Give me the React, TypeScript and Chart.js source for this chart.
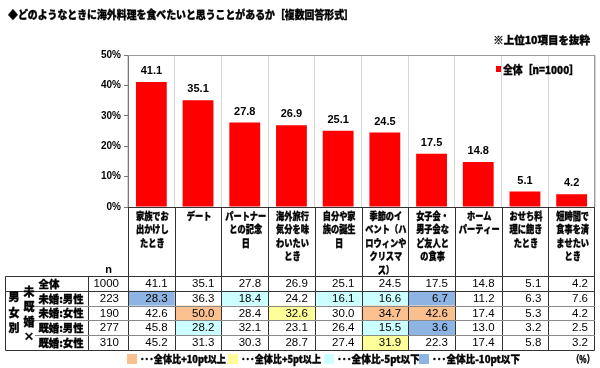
import React, { useEffect, useRef } from "react";
import { Chart, registerables } from "chart.js";
Chart.register(...registerables);

const titleText = "◆どのようなときに海外料理を食べたいと思うことがあるか［複数回答形式］";
const subtitleText = "※上位10項目を抜粋";
const seriesLabel = "全体［n=1000］";

const categories: string[][] = [
  ["家族でお", "出かけし", "たとき"],
  ["デート"],
  ["パートナー", "との記念", "日"],
  ["海外旅行", "気分を味", "わいたい", "とき"],
  ["自分や家", "族の誕生", "日"],
  ["季節のイ", "ベント（ハ", "ロウィンや", "クリスマ", "ス）"],
  ["女子会・", "男子会な", "ど友人と", "の食事"],
  ["ホーム", "パーティー"],
  ["おせち料", "理に飽き", "たとき"],
  ["短時間で", "食事を済", "ませたい", "とき"],
];

const totalValues = [41.1, 35.1, 27.8, 26.9, 25.1, 24.5, 17.5, 14.8, 5.1, 4.2];
const singleMale = [28.3, 36.3, 18.4, 24.2, 16.1, 16.6, 6.7, 11.2, 6.3, 7.6];
const singleFemale = [42.6, 50.0, 28.4, 32.6, 30.0, 34.7, 42.6, 17.4, 5.3, 4.2];
const marriedMale = [45.8, 28.2, 32.1, 23.1, 26.4, 15.5, 3.6, 13.0, 3.2, 2.5];
const marriedFemale = [45.2, 31.3, 30.3, 28.7, 27.4, 31.9, 22.3, 17.4, 5.8, 3.2];

const rowLabels = ["全体", "未婚:男性", "未婚:女性", "既婚:男性", "既婚:女性"];
const rowN = [1000, 223, 190, 277, 310];
const rowValues = [totalValues, singleMale, singleFemale, marriedMale, marriedFemale];
const groupLabel1 = ["男", "女", "別"];
const groupLabel2 = ["未", "既", "婚", "×"];

const yTicks = [0, 10, 20, 30, 40, 50];

const legendItems = [
  { color: "#FAC090", text: "･･･全体比+10pt以上" },
  { color: "#FFFF99", text: "･･･全体比+5pt以上" },
  { color: "#CCFFFF", text: "･･･全体比-5pt以下" },
  { color: "#8DB4E2", text: "･･･全体比-10pt以下" },
];

const JP = '"Noto Sans CJK JP", "Noto Sans", sans-serif';
const NUM = '"Liberation Sans", Arial, sans-serif';

function cellColor(v: number, base: number): string | null {
  const d = Math.round((v - base) * 10) / 10;
  if (d >= 10) return legendItems[0].color;
  if (d >= 5) return legendItems[1].color;
  if (d <= -10) return legendItems[3].color;
  if (d <= -5) return legendItems[2].color;
  return null;
}

function boldText(ctx: CanvasRenderingContext2D, t: string, x: number, y: number, maxW?: number) {
  if (maxW !== undefined) {
    ctx.fillText(t, x, y, maxW);
    ctx.lineWidth = 0.35;
    ctx.strokeStyle = ctx.fillStyle as string;
    ctx.strokeText(t, x, y, maxW);
  } else {
    ctx.fillText(t, x, y);
    ctx.lineWidth = 0.35;
    ctx.strokeStyle = ctx.fillStyle as string;
    ctx.strokeText(t, x, y);
  }
}

const overlayPlugin = {
  id: "overlay",
  afterDraw(chart: any) {
    const ctx = chart.ctx as CanvasRenderingContext2D;
    const area = chart.chartArea;
    const xs = chart.scales.x;
    const n = categories.length;
    const colW = (area.right - area.left) / n;
    const bound = (i: number) => area.left + i * colW;

    ctx.save();
    // Title & subtitle
    ctx.fillStyle = "#000";
    ctx.textBaseline = "middle";
    ctx.textAlign = "left";
    ctx.font = `900 11px ${JP}`;
    boldText(ctx, titleText, 8, 15, 346);
    ctx.textAlign = "right";
    ctx.font = `900 10.5px ${JP}`;
    boldText(ctx, subtitleText, 590, 40, 98);

    // plot border (top & right)
    ctx.strokeStyle = "#9a9a9a";
    ctx.lineWidth = 1;
    ctx.beginPath();
    ctx.moveTo(area.left, area.top + 0.5);
    ctx.lineTo(area.right, area.top + 0.5);
    ctx.moveTo(Math.round(area.right) - 0.5, area.top);
    ctx.lineTo(Math.round(area.right) - 0.5, area.bottom);
    ctx.stroke();

    // legend in plot
    ctx.fillStyle = "#FF0000";
    ctx.fillRect(496, 66, 5, 6);
    ctx.fillStyle = "#000";
    ctx.textAlign = "left";
    ctx.font = `900 11px ${JP}`;
    boldText(ctx, seriesLabel, 503, 70, 76);

    // value labels
    const meta = chart.getDatasetMeta(0);
    ctx.textAlign = "center";
    ctx.font = `bold 11px ${NUM}`;
    meta.data.forEach((bar: any, i: number) => {
      ctx.fillText(totalValues[i].toFixed(1), bar.x, bar.y - 11);
    });

    // geometry for table
    const tLeft = 5;
    const labelRight = 88;
    const tRight = Math.round(area.right);
    const tTop = 276;
    const rowH = 14.8;
    const rowY = (r: number) => tTop + r * rowH;
    const tBottom = rowY(5);

    // cell fills
    for (let r = 1; r < 5; r++) {
      for (let c = 0; c < n; c++) {
        const col = cellColor(rowValues[r][c], totalValues[c]);
        if (col) {
          ctx.fillStyle = col;
          ctx.fillRect(bound(c), rowY(r), colW, rowH);
        }
      }
    }

    // lines
    ctx.strokeStyle = "#333";
    ctx.lineWidth = 1;
    ctx.beginPath();
    for (let i = 0; i <= n; i++) {
      const x = Math.round(bound(i)) + (i === n ? -0.5 : 0.5);
      ctx.moveTo(x, area.bottom);
      ctx.lineTo(x, tBottom);
    }
    ctx.moveTo(area.left, Math.round(area.bottom) + 0.5);
    ctx.lineTo(tRight, Math.round(area.bottom) + 0.5);
    ctx.rect(tLeft + 0.5, tTop + 0.5, tRight - tLeft - 1, tBottom - tTop);
    ctx.moveTo(labelRight + 0.5, tTop);
    ctx.lineTo(labelRight + 0.5, tBottom);
    ctx.moveTo(tLeft, Math.round(rowY(1)) + 0.5);
    ctx.lineTo(tRight, Math.round(rowY(1)) + 0.5);
    ctx.stroke();

    ctx.strokeStyle = "#8a8a8a";
    ctx.beginPath();
    for (let r = 2; r < 5; r++) {
      const y = Math.round(rowY(r)) + 0.5;
      ctx.moveTo(35, y);
      ctx.lineTo(tRight, y);
    }
    ctx.stroke();

    // category labels
    ctx.fillStyle = "#000";
    ctx.textAlign = "center";
    ctx.font = `900 10px ${JP}`;
    categories.forEach((lines, i) => {
      const cx = xs.getPixelForValue(i);
      lines.forEach((t, j) => {
        boldText(ctx, t, cx + 1, 216 + j * 13.5, Math.min(44, t.length * 8.2));
      });
    });

    // n header
    ctx.font = `bold 11px ${NUM}`;
    ctx.fillText("n", 108.5, 270);

    // row labels
    ctx.font = `900 10.5px ${JP}`;
    boldText(ctx, rowLabels[0], 49, rowY(0) + rowH / 2 + 0.5);
    for (let r = 1; r < 5; r++) {
      boldText(ctx, rowLabels[r], 61, rowY(r) + rowH / 2 + 0.5, 45);
    }
    ctx.font = `900 11px ${JP}`;
    groupLabel1.forEach((t, j) => boldText(ctx, t, 14, 297 + j * 15.5));
    groupLabel2.forEach((t, j) => boldText(ctx, t, 29, 292 + j * 15));

    // numbers
    ctx.textAlign = "right";
    ctx.font = `11.5px ${NUM}`;
    for (let r = 0; r < 5; r++) {
      const cy = rowY(r) + rowH / 2 + 0.5;
      ctx.fillText(String(rowN[r]), 119, cy);
      for (let c = 0; c < n; c++) {
        ctx.fillText(rowValues[r][c].toFixed(1), bound(c + 1) - 7, cy);
      }
    }

    // bottom legend
    const legX = [127, 228, 324, 419];
    const legW = [86, 80, 83, 88];
    ctx.textAlign = "left";
    ctx.font = `900 10px ${JP}`;
    legendItems.forEach((it, i) => {
      ctx.fillStyle = it.color;
      ctx.fillRect(legX[i], 354, 10, 10);
      ctx.fillStyle = "#000";
      boldText(ctx, it.text, legX[i] + 13, 359.5, legW[i]);
    });
    ctx.textAlign = "right";
    boldText(ctx, "（%）", 594, 359.5, 22);

    ctx.restore();
  },
};

export default function App() {
  const ref = useRef<HTMLCanvasElement | null>(null);
  useEffect(() => {
    document.body.style.margin = "0";
    const canvas = ref.current;
    if (!canvas) return;
    const chart = new Chart(canvas, {
      type: "bar",
      data: {
        labels: categories.map((c) => c.join("")),
        datasets: [
          {
            label: seriesLabel,
            data: totalValues,
            backgroundColor: "#FF0000",
            borderWidth: 0,
            barPercentage: 0.66,
            categoryPercentage: 1,
          },
        ],
      },
      options: {
        animation: false,
        responsive: false,
        devicePixelRatio: 1,
        layout: { padding: { top: 55, right: 5, left: 0, bottom: 0 } },
        plugins: {
          legend: { display: false },
          title: { display: false },
          tooltip: { enabled: false },
        },
        scales: {
          x: {
            ticks: { display: false },
            grid: { offset: true, color: "#d6d6d6", drawTicks: false },
            border: { display: false },
            afterFit: (s: any) => {
              s.height = 161;
            },
          },
          y: {
            min: yTicks[0],
            max: yTicks[yTicks.length - 1],
            afterBuildTicks: (s: any) => {
              s.ticks = yTicks.map((v) => ({ value: v }));
            },
            ticks: {
              callback: (v: any) => v + "%",
              font: { size: 10, weight: "bold", family: NUM },
              color: "#000",
              padding: 3,
            },
            grid: { drawOnChartArea: false, drawTicks: true, tickLength: 4, color: "#777" },
            border: { color: "#777" },
            afterFit: (s: any) => {
              s.width = 128;
            },
          },
        },
      },
      plugins: [overlayPlugin],
    } as any);
    return () => chart.destroy();
  }, []);
  return (
    <div style={{ width: 600, height: 368 }}>
      <canvas ref={ref} width={600} height={368} style={{ display: "block" }} />
    </div>
  );
}
